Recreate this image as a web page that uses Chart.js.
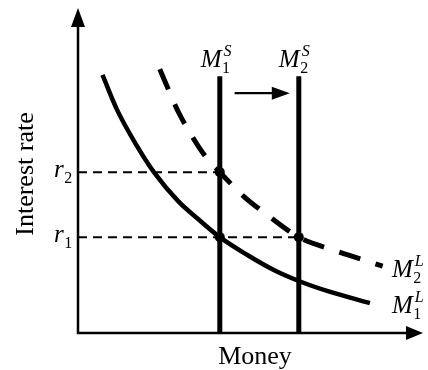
<!DOCTYPE html>
<html>
<head>
<meta charset="utf-8">
<script src="https://cdn.jsdelivr.net/npm/chart.js@4.4.1/dist/chart.umd.min.js"></script>
<style>
  html, body { margin: 0; padding: 0; background: #fff; }
  canvas { display: block; }
</style>
</head>
<body>
<canvas id="c" width="428" height="370"></canvas>
<script>
// ---- data (arbitrary units) ----
const supplyLevels = [4.11, 6.4];          // M1^S, M2^S (money)
const supplyTop = 7.9;                      // height of supply lines
const rateLevels = [2.95, 4.95];            // r1, r2
const demand1X = [0.71, 1.14, 1.69, 2.2, 2.91, 3.49, 4.11, 4.91, 5.69, 6.4, 7.29, 8.46];
const demand1Y = [7.94, 6.85, 5.79, 4.95, 4.05, 3.5, 2.95, 2.4, 1.93, 1.6, 1.27, 0.92];
const demand2X = [2.37, 2.63, 2.91, 3.29, 3.71, 4.11, 4.86, 5.43, 6.4, 7.4, 8.83];
const demand2Y = [8.12, 7.47, 6.8, 6.08, 5.41, 4.95, 4.15, 3.68, 2.95, 2.55, 2.06];
const shiftArrow = { from: 4.54, to: 6.14, y: 7.38 };
const xLabel = 'Money';
const yLabel = 'Interest rate';

const pts = (xs, ys) => xs.map((x, i) => ({ x: x, y: ys[i] }));
const SERIF = '"Liberation Serif", "Times New Roman", serif';

const datasets = [
  { // M1^L demand (solid)
    data: pts(demand1X, demand1Y), showLine: true, borderColor: '#000', borderWidth: 4.5,
    pointRadius: 0, cubicInterpolationMode: 'monotone', fill: false, clip: false, borderCapStyle: 'butt'
  },
  { // M2^L demand (dashed)
    data: pts(demand2X, demand2Y), showLine: true, borderColor: '#000', borderWidth: 5,
    borderDash: [22, 16], pointRadius: 0, cubicInterpolationMode: 'monotone', fill: false, clip: false,
    borderCapStyle: 'butt'
  },
  { // r2 guide
    data: [{ x: 0, y: rateLevels[1] }, { x: supplyLevels[0], y: rateLevels[1] }], showLine: true,
    borderColor: '#000', borderWidth: 2, borderDash: [9, 6], pointRadius: 0, clip: false
  },
  { // r1 guide
    data: [{ x: 0, y: rateLevels[0] }, { x: supplyLevels[1], y: rateLevels[0] }], showLine: true,
    borderColor: '#000', borderWidth: 2, borderDash: [9, 6], pointRadius: 0, clip: false
  },
  { // M1^S
    data: [{ x: supplyLevels[0], y: 0 }, { x: supplyLevels[0], y: supplyTop }], showLine: true,
    borderColor: '#000', borderWidth: 5, pointRadius: 0, clip: false
  },
  { // M2^S
    data: [{ x: supplyLevels[1], y: 0 }, { x: supplyLevels[1], y: supplyTop }], showLine: true,
    borderColor: '#000', borderWidth: 5, pointRadius: 0, clip: false
  },
  { // equilibrium dots
    data: [{ x: supplyLevels[0], y: rateLevels[1] }, { x: supplyLevels[0], y: rateLevels[0] }, { x: supplyLevels[1], y: rateLevels[0] }],
    showLine: false, pointRadius: 5, pointBackgroundColor: '#000', pointBorderColor: '#000', pointBorderWidth: 0, clip: false
  }
];

function labelSubSup(ctx, x, base, main, sub, sup) {
  ctx.textAlign = 'left';
  ctx.textBaseline = 'alphabetic';
  ctx.font = 'italic 25px ' + SERIF;
  ctx.fillText(main, x, base);
  const w = ctx.measureText(main).width;
  if (sub) {
    ctx.font = '16px ' + SERIF;
    ctx.fillText(sub, x + w + 0.5, base + 6);
  }
  if (sup) {
    ctx.font = 'italic 16px ' + SERIF;
    ctx.fillText(sup, x + w + 2, base - 11);
  }
}

const decor = {
  id: 'decor',
  beforeDatasetsDraw(chart) {
    const ctx = chart.ctx, xs = chart.scales.x, ys = chart.scales.y;
    const x0 = xs.getPixelForValue(0), y0 = ys.getPixelForValue(0);
    const xEnd = xs.getPixelForValue(xs.max), yEnd = ys.getPixelForValue(ys.max);
    ctx.save();
    ctx.strokeStyle = '#000'; ctx.fillStyle = '#000'; ctx.lineWidth = 2.5;
    ctx.beginPath();
    ctx.moveTo(x0, yEnd + 14); ctx.lineTo(x0, y0); ctx.lineTo(xEnd - 14, y0);
    ctx.stroke();
    // arrowheads
    ctx.beginPath();
    ctx.moveTo(x0, yEnd); ctx.lineTo(x0 - 7, yEnd + 19); ctx.lineTo(x0 + 7, yEnd + 19); ctx.closePath(); ctx.fill();
    ctx.beginPath();
    ctx.moveTo(xEnd, y0); ctx.lineTo(xEnd - 17, y0 - 7); ctx.lineTo(xEnd - 17, y0 + 7); ctx.closePath(); ctx.fill();
    ctx.restore();
  },
  afterDatasetsDraw(chart) {
    const ctx = chart.ctx, xs = chart.scales.x, ys = chart.scales.y;
    ctx.save();
    ctx.fillStyle = '#000'; ctx.strokeStyle = '#000';
    // shift arrow
    const ax1 = xs.getPixelForValue(shiftArrow.from), ax2 = xs.getPixelForValue(shiftArrow.to);
    const ay = ys.getPixelForValue(shiftArrow.y);
    ctx.lineWidth = 2.2;
    ctx.beginPath(); ctx.moveTo(ax1, ay); ctx.lineTo(ax2 - 16, ay); ctx.stroke();
    ctx.beginPath(); ctx.moveTo(ax2, ay); ctx.lineTo(ax2 - 18, ay - 6.5); ctx.lineTo(ax2 - 18, ay + 6.5); ctx.closePath(); ctx.fill();

    // supply labels
    const sTop = ys.getPixelForValue(supplyTop);
    labelSubSup(ctx, xs.getPixelForValue(supplyLevels[0]) - 19, sTop - 9, 'M', '1', 'S');
    labelSubSup(ctx, xs.getPixelForValue(supplyLevels[1]) - 20, sTop - 9, 'M', '2', 'S');
    // demand labels
    labelSubSup(ctx, 392, ys.getPixelForValue(demand2Y[demand2Y.length - 1]) + 11, 'M', '2', 'L');
    labelSubSup(ctx, 392, ys.getPixelForValue(demand1Y[demand1Y.length - 1]) + 10, 'M', '1', 'L');
    // rate labels
    labelSubSup(ctx, 54, ys.getPixelForValue(rateLevels[1]) + 5, 'r', '2', null);
    labelSubSup(ctx, 54, ys.getPixelForValue(rateLevels[0]) + 5, 'r', '1', null);

    // axis titles
    ctx.font = '26px ' + SERIF;
    ctx.textAlign = 'center'; ctx.textBaseline = 'alphabetic';
    ctx.fillText(xLabel, 255, 364);
    ctx.translate(33, 174);
    ctx.rotate(-Math.PI / 2);
    ctx.fillText(yLabel, 0, 0);
    ctx.restore();
  }
};

new Chart(document.getElementById('c'), {
  type: 'scatter',
  data: { datasets: datasets },
  options: {
    responsive: false,
    devicePixelRatio: 1,
    animation: false,
    layout: { padding: { left: 78, right: 0, top: 8, bottom: 37 } },
    plugins: { legend: { display: false }, tooltip: { enabled: false } },
    scales: {
      x: { type: 'linear', min: 0, max: 10, display: false },
      y: { type: 'linear', min: 0, max: 10, display: false }
    }
  },
  plugins: [decor]
});
</script>
</body>
</html>
